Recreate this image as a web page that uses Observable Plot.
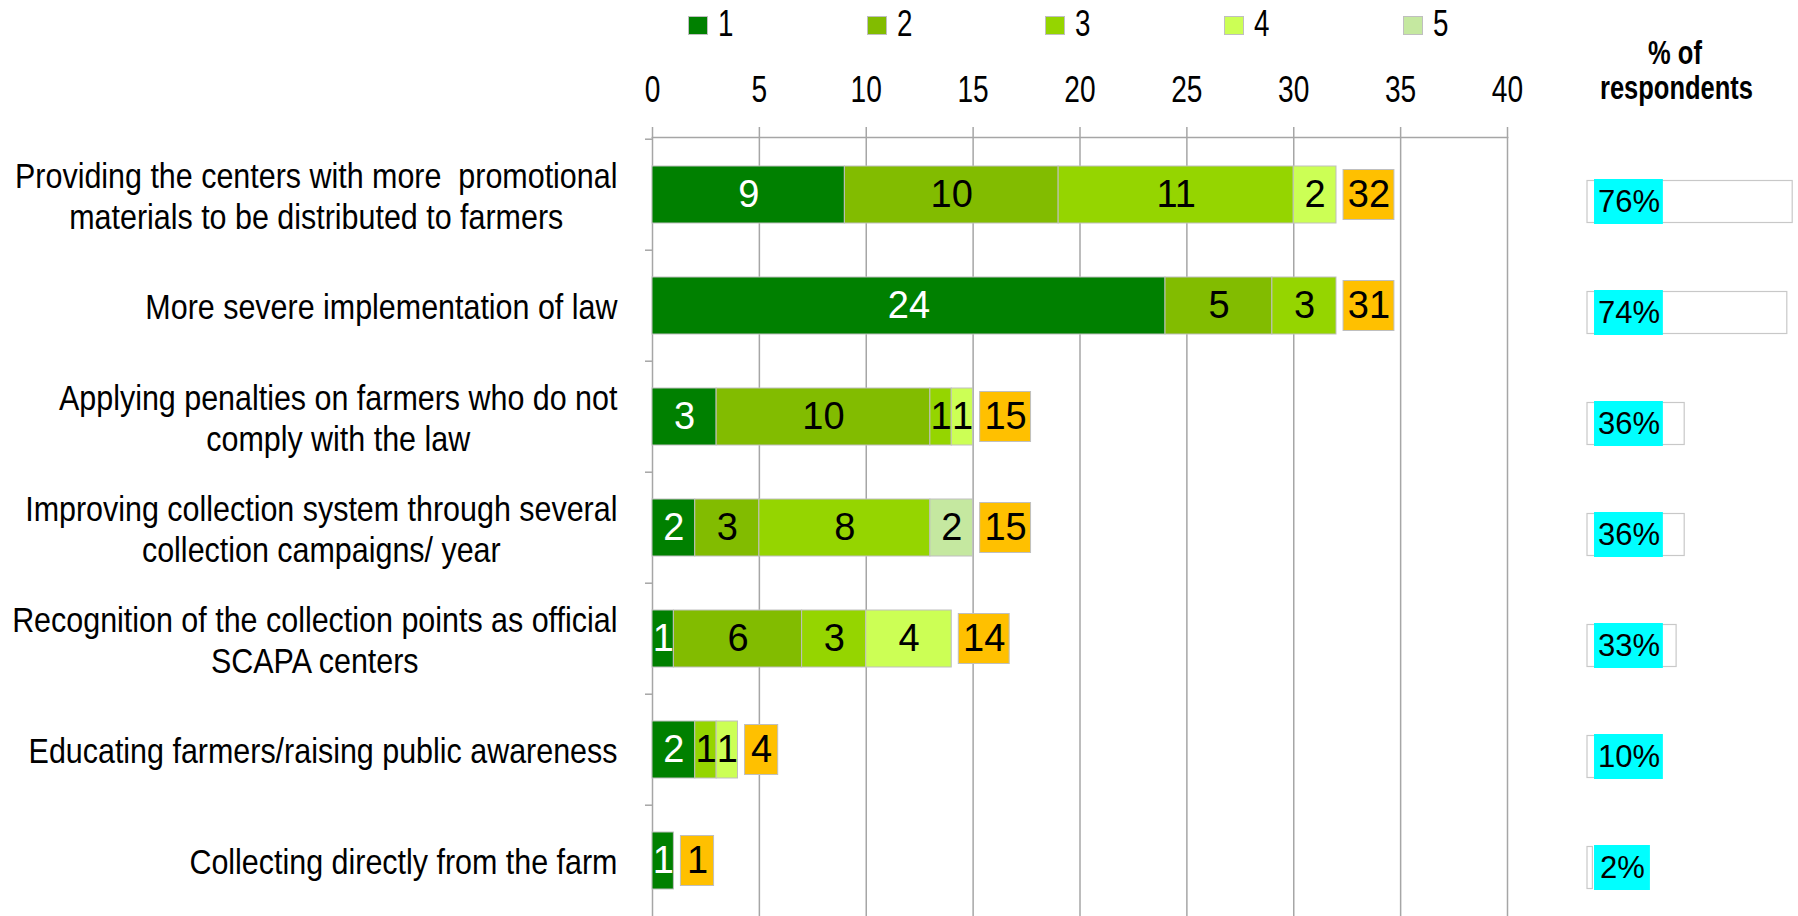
<!DOCTYPE html>
<html><head><meta charset="utf-8">
<script src="https://cdn.jsdelivr.net/npm/d3@7"></script>
<script src="https://cdn.jsdelivr.net/npm/@observablehq/plot@0.6"></script>
<style>
html,body{margin:0;padding:0;background:#fff;overflow:hidden}
#wrap{position:relative;width:1798px;height:916px;overflow:hidden;font-family:"Liberation Sans",Arial,sans-serif}
#legend{position:absolute;left:688px;top:0;height:48px;display:flex}
.item{width:178.7px;display:flex;align-items:center;height:48px}
.sw{width:20px;height:19px;box-sizing:border-box;border:1px solid #bfbfbf;margin-right:10px;margin-top:2px}
.item span{font-size:37px;line-height:44px;display:inline-block;transform:scaleX(0.75);transform-origin:left center}
#head{position:absolute;left:1575px;width:200px;top:35px;text-align:center;font-weight:bold;font-size:34px;line-height:35px;transform:scaleX(0.75);transform-origin:center}
#main{position:absolute;left:0;top:0}
#panel{position:absolute;left:1560px;top:7px}
</style></head><body><div id="wrap"><div id="legend"></div><div id="head">% of<br>respondents</div><div id="main"></div><div id="panel"></div></div>
<script>
const categories = [
  "Providing the centers with more  promotional\nmaterials to be distributed to farmers",
  "More severe implementation of law",
  "Applying penalties on farmers who do not\ncomply with the law",
  "Improving collection system through several\ncollection campaigns/ year",
  "Recognition of the collection points as official\nSCAPA centers",
  "Educating farmers/raising public awareness",
  "Collecting directly from the farm"
];
const ratings = ["1", "2", "3", "4", "5"];
const rating1 = [9, 24, 3, 2, 1, 2, 1];
const rating2 = [10, 5, 10, 3, 6, 0, 0];
const rating3 = [11, 3, 1, 8, 3, 1, 0];
const rating4 = [2, 0, 1, 0, 4, 1, 0];
const rating5 = [0, 0, 0, 2, 0, 0, 0];
const totals = [32, 31, 15, 15, 14, 4, 1];
const percents = [76, 74, 36, 36, 33, 10, 2];
const xTicks = [0, 5, 10, 15, 20, 25, 30, 35, 40];
const colors = ["#008000", "#82bc00", "#95d500", "#ccff55", "#c5e8a0"];

const series = [rating1, rating2, rating3, rating4, rating5];
const stacked = [];
categories.forEach((c, i) => {
  ratings.forEach((r, k) => {
    if (series[k][i] > 0) stacked.push({category: c, rating: r, value: series[k][i], color: colors[k]});
  });
});
const totalRows = categories.map((c, i) => ({
  category: c, total: totals[i], end: series.reduce((s, arr) => s + arr[i], 0)
}));
const pctRows = categories.map((c, i) => ({category: c, pct: percents[i]}));

// legend
const leg = document.getElementById("legend");
ratings.forEach((r, k) => {
  const it = document.createElement("div"); it.className = "item";
  it.innerHTML = `<div class="sw" style="background:${colors[k]}"></div><span>${r}</span>`;
  leg.appendChild(it);
});

const font = '"Liberation Sans",Arial,sans-serif';
const grid = "#a6a6a6";
const W = 1560, H = 918, mTop = 137;
const yScale = {domain: categories, paddingInner: 0.49, paddingOuter: 0.245};
const halfStep = (H - mTop) / categories.length / 2;
const boxGap = 0.33;
const boxW = d => String(d.total).length > 1 ? 2.38 : 1.55;

const main = Plot.plot({
  width: W, height: H,
  marginLeft: 652, marginRight: 53, marginTop: mTop, marginBottom: 0,
  style: {fontFamily: font, background: "transparent"},
  x: {domain: [0, 40], label: null},
  y: {...yScale, label: null},
  color: {type: "identity"},
  marks: [
    Plot.ruleX(xTicks, {stroke: grid, strokeWidth: 1.5}),
    Plot.frame({anchor: "top", stroke: grid, strokeWidth: 1.5}),
    Plot.axisX({anchor: "top", ticks: xTicks, tickSize: 11, tickPadding: 25, fontSize: 37, stroke: grid, color: "black", strokeWidth: 1.5, label: null}),
    Plot.axisY({tickSize: 7, tickFormat: () => "", dy: -halfStep, stroke: grid, strokeWidth: 1.5, label: null}),
    Plot.axisY({tickSize: 0, tickPadding: 35, fontSize: 35, lineHeight: 1.17, color: "black", label: null}),
    Plot.barX(stacked, Plot.stackX({x: "value", y: "category", z: "rating", fill: "color", stroke: "#bfbfbf", strokeWidth: 1})),
    Plot.text(stacked, Plot.stackX({x: "value", y: "category", z: "rating", text: d => String(d.value), fill: d => d.rating === "1" ? "white" : "black", fontSize: 38, ariaLabel: "num"})),
    Plot.barX(totalRows, {x1: d => d.end + boxGap, x2: d => d.end + boxGap + boxW(d), y: "category", fill: "#ffc000", stroke: "#bfbfbf", insetTop: 3.5, insetBottom: 3.5}),
    Plot.text(totalRows, {x: d => d.end + boxGap + boxW(d) / 2, y: "category", text: d => String(d.total), fill: "black", fontSize: 38, ariaLabel: "num"})
  ]
});
document.getElementById("main").appendChild(main);

function condense(nodes, s, center) {
  nodes.forEach(t => {
    if (!t.textContent) return;
    const orig = t.getAttribute("transform") || "";
    let shift = "";
    if (center) {
      const spans = t.querySelectorAll("tspan");
      let w = 0;
      if (spans.length) spans.forEach(sp => { w = Math.max(w, sp.getComputedTextLength()); });
      else w = t.getComputedTextLength();
      t.setAttribute("text-anchor", "middle");
      shift = `translate(${-w * s / 2},0) `;
    }
    t.setAttribute("transform", `${shift}${orig} scale(${s},1)`);
  });
}
condense(main.querySelectorAll('g[aria-label="y-axis tick label"] text'), 0.87, true);
condense(main.querySelectorAll('g[aria-label="x-axis tick label"] text'), 0.76, false);
condense(main.querySelectorAll('g[aria-label="num"] text'), 0.75, false);

const cyanStart = 2.6;
const cyanW = d => String(d.pct).length > 1 ? 25.5 : 20.7;
const panel = Plot.plot({
  width: 238, height: H,
  marginLeft: 0, marginRight: 0, marginTop: mTop, marginBottom: 0,
  style: {fontFamily: font, background: "transparent"},
  x: {domain: [0, 100], range: [27, 297], axis: null},
  y: {...yScale, axis: null},
  marks: [
    Plot.barX(pctRows, {x1: 0, x2: "pct", y: "category", fill: "white", stroke: "#c8c8c8", strokeWidth: 1.2, insetTop: 7.5, insetBottom: 7.5}),
    Plot.barX(pctRows, {x1: cyanStart, x2: d => cyanStart + cyanW(d), y: "category", fill: "#00ffff", insetTop: 6, insetBottom: 6}),
    Plot.text(pctRows, {x: d => cyanStart + cyanW(d) / 2, y: "category", text: d => d.pct + "%", fill: "black", fontSize: 31, ariaLabel: "pct"})
  ]
});
document.getElementById("panel").appendChild(panel);
condense(panel.querySelectorAll('g[aria-label="pct"] text'), 0.74, false);
</script>
</body></html>
